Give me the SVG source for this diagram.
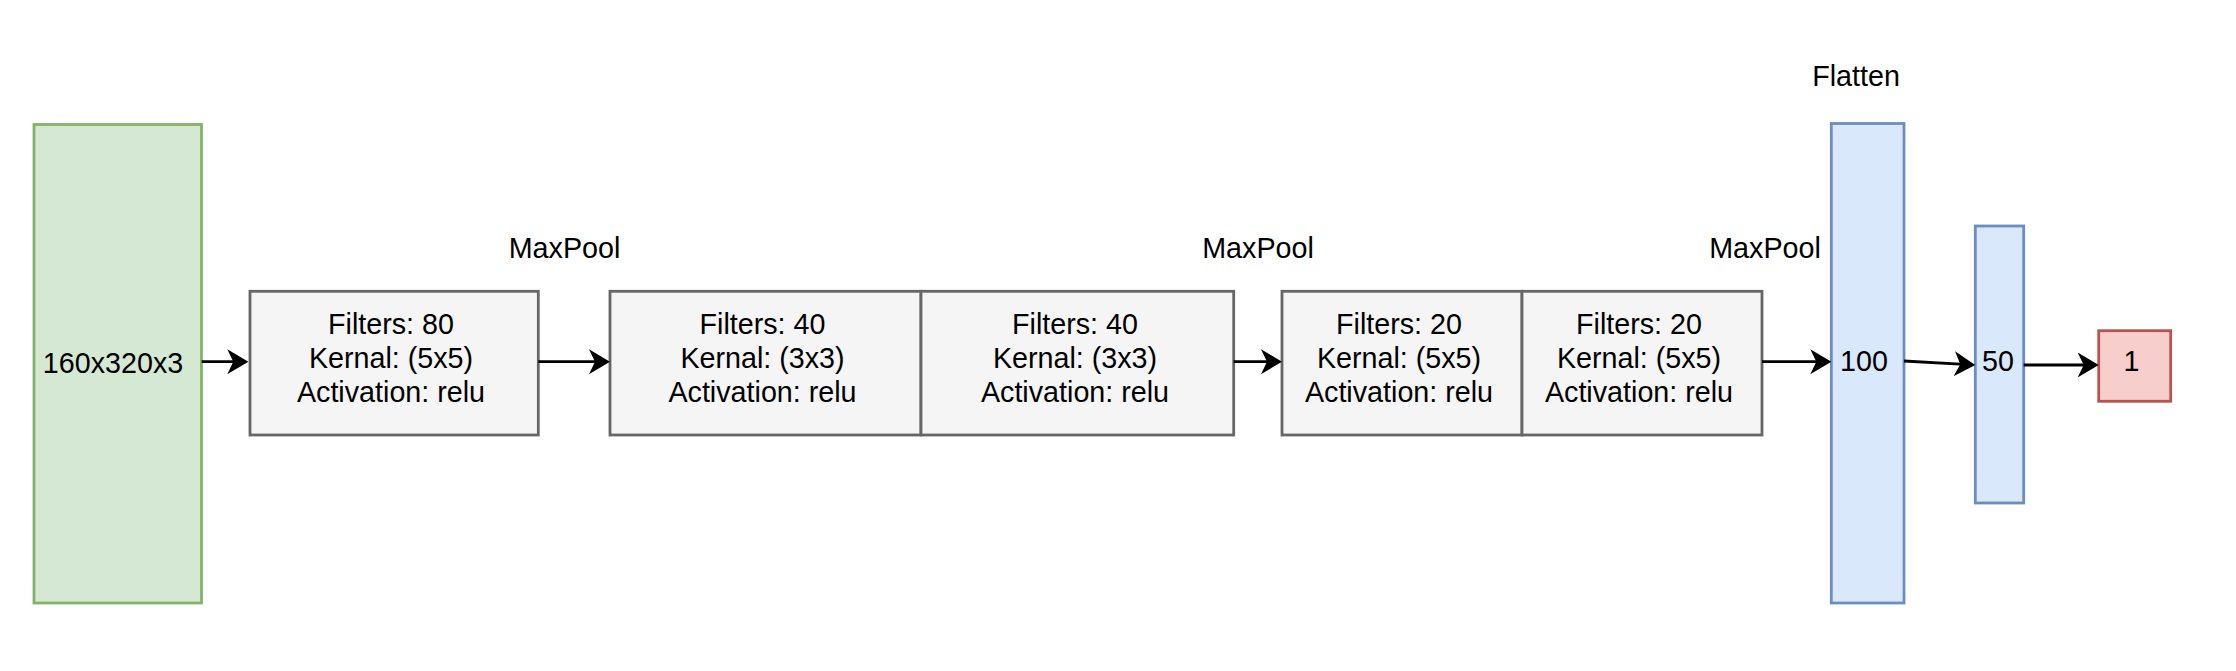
<svg xmlns="http://www.w3.org/2000/svg" width="2236" height="671" viewBox="0 0 2236 671">
  <style>
    text { font-family: "Liberation Sans", Arial, Helvetica, sans-serif; font-size: 28.7px; fill: #000000; text-anchor: middle; }
    .input { fill: #d5e8d4; stroke: #82b366; stroke-width: 2.8; }
    .conv { fill: #f5f5f5; stroke: #666666; stroke-width: 2.8; }
    .dense { fill: #dae8fc; stroke: #6c8ebf; stroke-width: 2.8; }
    .out { fill: #f8cecc; stroke: #b85450; stroke-width: 2.8; }
    .edge { fill: none; stroke: #000000; stroke-width: 2.8; marker-end: url(#arrow); }
  </style>
  <defs>
    <marker id="arrow" viewBox="0 0 21 25" markerUnits="userSpaceOnUse" markerWidth="21" markerHeight="25" refX="10" refY="12.5" orient="auto">
      <path d="M21,12.5 L0,0 L6,12.5 L0,25 Z" fill="#000000"/>
    </marker>
  </defs>
  <rect width="2236" height="671" fill="#ffffff"/>

  <g id="input">
    <rect class="input" x="34" y="124.5" width="167.5" height="478.5"/>
    <text x="113" y="372.5">160x320x3</text>
  </g>

  <g id="conv1">
    <rect class="conv" x="250" y="291.3" width="288.3" height="143.7"/>
    <text x="391" y="334">Filters: 80</text>
    <text x="391" y="368">Kernal: (5x5)</text>
    <text x="391" y="402">Activation: relu</text>
  </g>

  <g id="maxpool1">
    <text x="564.5" y="258.3">MaxPool</text>
  </g>

  <g id="conv2a">
    <rect class="conv" x="610" y="291.3" width="311" height="143.7"/>
    <text x="762.5" y="334">Filters: 40</text>
    <text x="762.5" y="368">Kernal: (3x3)</text>
    <text x="762.5" y="402">Activation: relu</text>
  </g>

  <g id="conv2b">
    <rect class="conv" x="921" y="291.3" width="312.7" height="143.7"/>
    <text x="1075" y="334">Filters: 40</text>
    <text x="1075" y="368">Kernal: (3x3)</text>
    <text x="1075" y="402">Activation: relu</text>
  </g>

  <g id="maxpool2">
    <text x="1258" y="258.3">MaxPool</text>
  </g>

  <g id="conv3a">
    <rect class="conv" x="1282" y="291.3" width="240" height="143.7"/>
    <text x="1399" y="334">Filters: 20</text>
    <text x="1399" y="368">Kernal: (5x5)</text>
    <text x="1399" y="402">Activation: relu</text>
  </g>

  <g id="conv3b">
    <rect class="conv" x="1522" y="291.3" width="240" height="143.7"/>
    <text x="1639" y="334">Filters: 20</text>
    <text x="1639" y="368">Kernal: (5x5)</text>
    <text x="1639" y="402">Activation: relu</text>
  </g>

  <g id="maxpool3">
    <text x="1765" y="258.3">MaxPool</text>
  </g>

  <g id="flatten-label">
    <text x="1856" y="85.5">Flatten</text>
  </g>

  <g id="dense100">
    <rect class="dense" x="1831.3" y="123.5" width="72.7" height="479.5"/>
    <text x="1864" y="371">100</text>
  </g>

  <g id="dense50">
    <rect class="dense" x="1975.3" y="226" width="48.4" height="277"/>
    <text x="1998" y="371">50</text>
  </g>

  <g id="output">
    <rect class="out" x="2098.7" y="330.7" width="72" height="70.6"/>
    <text x="2131.5" y="371">1</text>
  </g>

  <g id="connectors">
    <line class="edge" x1="201.7" y1="361.7" x2="237.3" y2="361.7"/>
    <line class="edge" x1="538.3" y1="361.7" x2="599" y2="361.7"/>
    <line class="edge" x1="1233.7" y1="361.7" x2="1271" y2="361.7"/>
    <line class="edge" x1="1762" y1="361.7" x2="1820.3" y2="361.7"/>
    <line class="edge" x1="1904" y1="361" x2="1964.3" y2="364.4"/>
    <line class="edge" x1="2023.7" y1="365" x2="2087.7" y2="365"/>
  </g>
</svg>
